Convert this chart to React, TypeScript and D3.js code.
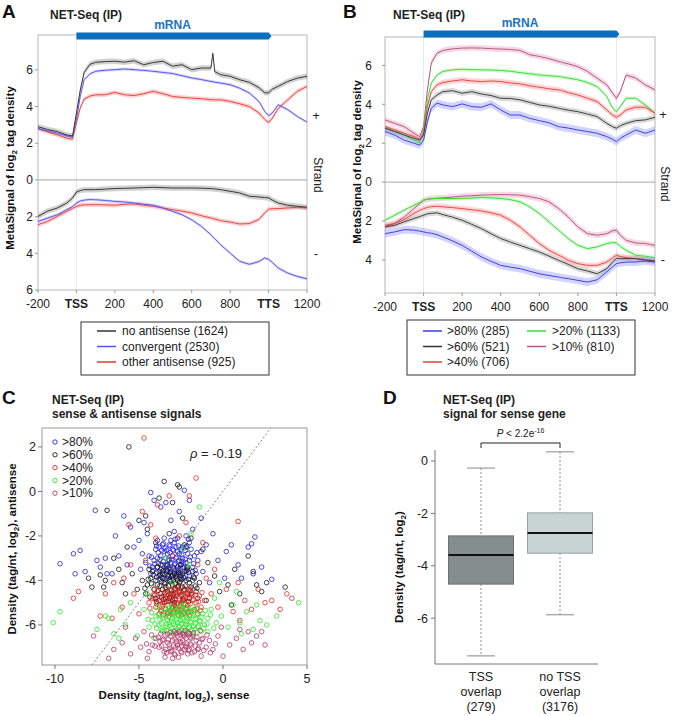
import React from "react";
import * as d3 from "d3";

const FONT = "'Liberation Sans', Arial, Helvetica, sans-serif";

// ---------- Panel A / B shared positions (bp relative to TSS; TTS = 1000) ----------
const positions = [-200,-150,-100,-50,-20,0,20,40,70,100,150,200,250,300,350,400,450,500,550,600,650,700,710,720,750,800,850,900,950,980,1000,1020,1050,1100,1150,1200];
const xTickVals = [-200, 0, 200, 400, 600, 800, 1000, 1200];
const xTickLabels = ["-200", "TSS", "200", "400", "600", "800", "TTS", "1200"];

// Panel A: sense (+) strand and antisense (-) strand magnitudes
const aNoAntiUp = [2.9,2.75,2.64,2.45,2.4,3.65,4.9,5.85,6.3,6.41,6.45,6.47,6.42,6.5,6.28,6.4,6.47,6.2,6.28,6.01,6.1,6.1,6.9,5.9,5.74,5.65,5.46,5.32,5.03,4.75,4.75,4.95,5.1,5.37,5.55,5.65];
const aConvUp = [2.8,2.67,2.55,2.4,2.35,3.3,4.55,5.46,5.78,5.92,5.98,6.01,6.05,6.01,5.97,5.92,5.86,5.8,5.68,5.56,5.47,5.37,5.35,5.33,5.28,5.19,5.0,4.74,4.28,3.74,3.5,3.65,4.1,3.83,3.46,3.15];
const aOtherUp = [2.8,2.62,2.46,2.28,2.22,3.1,3.93,4.4,4.57,4.64,4.64,4.77,4.64,4.6,4.7,4.83,4.7,4.55,4.5,4.46,4.43,4.37,4.38,4.36,4.37,4.28,4.15,4.0,3.65,3.3,3.13,3.37,3.9,4.37,4.83,5.1];
const aNoAntiDown = [1.99,1.7,1.53,1.26,0.98,0.66,0.58,0.53,0.53,0.53,0.5,0.47,0.46,0.44,0.42,0.4,0.42,0.44,0.44,0.44,0.45,0.47,0.48,0.49,0.53,0.62,0.71,0.89,0.93,0.96,0.98,1.1,1.26,1.38,1.44,1.49];
const aConvDown = [2.26,2.08,1.9,1.62,1.45,1.26,1.15,1.1,1.07,1.08,1.12,1.17,1.2,1.26,1.32,1.38,1.53,1.71,1.9,2.17,2.53,2.99,3.1,3.2,3.53,3.99,4.44,4.6,4.45,4.25,4.33,4.5,4.8,5.08,5.26,5.39];
const aOtherDown = [2.44,2.26,1.99,1.71,1.55,1.44,1.38,1.36,1.35,1.35,1.36,1.38,1.33,1.31,1.38,1.44,1.53,1.62,1.7,1.8,1.95,2.08,2.1,2.13,2.22,2.3,2.4,2.38,2.15,1.8,1.6,1.57,1.56,1.53,1.49,1.53];
const aLegend = ["no antisense (1624)", "convergent (2530)", "other antisense (925)"];

// Panel B
const b80Up = [2.6,2.42,2.16,2.0,1.9,2.16,3.11,3.8,4.06,3.97,3.88,4.02,3.88,3.85,4.02,3.71,3.45,3.45,3.28,3.16,3.05,2.85,2.84,2.82,2.78,2.68,2.6,2.51,2.34,2.2,2.08,2.25,2.42,2.68,2.51,2.68];
const b60Up = [2.77,2.6,2.42,2.25,2.16,2.42,3.54,4.23,4.48,4.65,4.7,4.57,4.65,4.53,4.45,4.31,4.3,4.23,4.1,3.97,3.9,3.8,3.78,3.76,3.7,3.62,3.5,3.37,3.02,2.85,2.77,2.9,3.02,3.16,3.2,3.33];
const b40Up = [2.85,2.68,2.51,2.34,2.2,2.51,3.88,4.65,5.0,5.12,5.2,5.26,5.2,5.17,5.2,5.17,5.1,5.05,4.95,4.88,4.8,4.74,4.72,4.7,4.6,4.48,4.31,4.14,3.71,3.45,3.33,3.45,3.71,3.85,3.85,3.54];
const b20Up = [2.77,2.6,2.42,2.16,2.0,2.68,4.23,5.09,5.51,5.69,5.77,5.8,5.78,5.77,5.76,5.74,5.7,5.63,5.57,5.51,5.47,5.43,5.42,5.4,5.35,5.26,5.12,4.91,4.4,3.8,3.62,3.88,4.31,4.31,3.97,3.54];
const b10Up = [3.2,3.02,2.85,2.51,2.34,2.85,4.74,6.12,6.63,6.77,6.85,6.89,6.9,6.89,6.86,6.84,6.82,6.77,6.55,6.46,6.35,6.2,6.18,6.15,6.08,5.94,5.69,5.34,5.0,4.57,4.31,4.65,5.5,5.35,5.0,4.74];
const b80Down = [2.65,2.56,2.44,2.47,2.52,2.56,2.6,2.63,2.7,2.82,3.02,3.25,3.55,3.85,4.07,4.28,4.37,4.45,4.58,4.71,4.8,4.88,4.9,4.92,4.96,5.05,5.14,5.02,4.62,4.35,4.19,4.15,4.11,4.11,4.05,4.11];
const b60Down = [2.3,2.22,2.04,1.87,1.77,1.7,1.63,1.6,1.58,1.67,1.8,1.96,2.17,2.39,2.65,2.9,3.08,3.25,3.42,3.59,3.8,4.02,4.06,4.1,4.23,4.45,4.57,4.71,4.45,4.1,3.93,3.93,3.93,3.93,4.02,4.05];
const b40Down = [2.22,2.13,1.92,1.61,1.45,1.36,1.3,1.26,1.24,1.27,1.31,1.36,1.42,1.48,1.58,1.7,1.96,2.3,2.73,3.16,3.5,3.76,3.8,3.85,4.02,4.19,4.28,4.28,4.11,3.9,3.76,3.82,3.88,3.93,3.98,4.05];
const b20Down = [1.96,1.7,1.44,1.19,1.05,0.93,0.88,0.86,0.84,0.84,0.84,0.84,0.82,0.79,0.81,0.84,0.9,1.01,1.27,1.61,2.04,2.47,2.56,2.64,2.9,3.25,3.42,3.33,3.16,3.1,3.13,3.3,3.5,3.76,3.81,3.88];
const b10Down = [2.3,2.13,1.79,1.36,1.1,0.93,0.88,0.85,0.83,0.81,0.77,0.72,0.7,0.67,0.65,0.64,0.65,0.67,0.75,0.84,1.01,1.36,1.44,1.53,1.79,2.3,2.65,2.73,2.65,2.5,2.47,2.73,2.99,3.13,3.16,3.25];
const bLegendCol1 = [">80% (285)", ">60% (521)", ">40% (706)"];
const bLegendCol2 = [">20% (1133)", ">10% (810)"];

// ---------- Panel C scatter (sense, antisense) ----------
const c80: [number, number][] = [[-3.1,-3.2],[-2.8,-3.0],[-3.4,-3.5],[-2.5,-3.3],[-3.7,-2.9],[-2.2,-3.6],[-3.0,-2.6],[-2.6,-2.8],[-3.9,-3.4],[-3.3,-3.9],[-2.9,-3.7],[-2.0,-3.1],[-4.1,-3.1],[-3.6,-3.3],[-2.4,-2.5],[-3.2,-2.4],[-1.8,-3.4],[-4.3,-3.7],[-2.7,-3.5],[-3.5,-2.7],[-2.1,-2.8],[-3.8,-3.8],[-2.3,-3.9],[-3.0,-3.4],[-2.6,-3.1],[-3.4,-3.0],[-1.7,-2.9],[-4.4,-2.9],[-2.9,-2.3],[-3.6,-3.6],[-2.0,-3.8],[-3.3,-2.8],[-2.8,-3.8],[-4.0,-2.6],[-2.4,-3.4],[-3.1,-3.6],[-1.6,-3.7],[-3.9,-3.0],[-2.5,-2.6],[-3.2,-3.1],[-2.2,-3.2],[-3.7,-3.5],[-2.7,-2.7],[-4.2,-3.4],[-1.9,-2.6],[-3.5,-3.9],[-2.9,-3.3],[-3.0,-2.9],[-2.3,-2.4],[-3.8,-2.5],[-2.6,-3.7],[-3.4,-3.3],[-2.1,-3.5],[-4.6,-3.2],[-1.5,-3.1],[-3.6,-2.4],[-2.8,-2.5],[-3.3,-3.6],[-2.4,-3.0],[-2.0,-2.3],[-3.1,-2.2],[-2.5,-3.9],[-3.9,-2.2],[-1.3,-2.7],[-4.8,-2.8],[-2.7,-2.1],[-3.5,-2.1],[-2.2,-2.0],[-3.0,-3.9],[-1.8,-4.0],[-9.7,-3.25],[-8.9,-2.8],[-8.8,-3.7],[-8.5,-2.65],[-8.2,-3.6],[-7.6,-0.85],[-7.5,-3.1],[-7.3,-3.4],[-7.0,-3.0],[-6.6,-3.7],[-6.4,-2.0],[-6.2,-2.9],[-5.9,-1.1],[-5.7,-3.3],[-5.5,-1.6],[-5.3,-2.5],[-5.0,-2.2],[-4.9,-3.5],[-4.7,-1.4],[-4.3,-0.05],[-4.5,-1.9],[-4.1,-0.4],[-3.7,-0.7],[-3.4,-0.5],[-3.1,-1.3],[-2.9,-1.8],[-2.6,-0.9],[-2.3,0.05],[-2.0,-0.4],[-1.8,-1.7],[-1.3,-1.2],[-1.0,-2.4],[-0.6,-1.9],[-0.3,-3.1],[0.2,-2.7],[0.5,-2.4],[0.9,-3.3],[1.1,-3.9],[1.5,-2.5],[1.7,-2.35],[1.9,-2.05],[1.8,-3.7],[2.3,-3.4],[2.9,-3.95],[-6.9,-3.7],[-1.2,-3.6],[-0.8,-4.1],[0.1,-3.9]];
const c80Core: [number, number][] = [[-3.25,-3.05],[-2.95,-3.45],[-3.55,-3.15],[-2.65,-3.55],[-3.85,-2.75],[-2.35,-3.25],[-3.15,-2.75],[-2.75,-2.95],[-3.65,-3.85],[-3.45,-2.55],[-2.45,-2.85],[-2.15,-3.45],[-3.95,-3.65],[-3.05,-3.75],[-2.55,-3.75],[-3.35,-3.35],[-2.85,-3.25],[-2.25,-2.65],[-4.05,-3.25],[-3.75,-3.05],[-2.05,-3.65],[-3.15,-3.95],[-2.65,-2.45],[-3.55,-2.35],[-2.35,-3.85],[-4.25,-2.95],[-1.95,-2.95],[-3.05,-3.05],[-2.75,-3.65],[-3.35,-2.65],[-2.45,-3.15],[-1.75,-3.25],[-4.15,-3.55],[-3.85,-3.25],[-2.95,-2.65],[-2.15,-2.45],[-3.25,-3.45],[-3.65,-2.65],[-2.55,-3.45],[-1.65,-3.55],[-2.85,-2.15],[-3.45,-3.75],[-4.35,-3.35],[-2.25,-3.05],[-3.75,-3.95],[-2.65,-3.15],[-3.15,-2.45],[-1.55,-2.75],[-2.05,-2.15],[-3.95,-2.45]];
const c60: [number, number][] = [[-3.0,-4.2],[-2.7,-4.0],[-3.3,-4.5],[-2.4,-4.3],[-3.6,-3.9],[-2.1,-4.6],[-3.9,-4.2],[-2.9,-3.7],[-3.4,-4.8],[-2.5,-3.8],[-3.7,-4.6],[-2.2,-4.0],[-4.1,-4.4],[-3.1,-3.5],[-2.8,-4.7],[-3.5,-4.1],[-1.9,-4.3],[-4.3,-3.9],[-2.6,-4.5],[-3.2,-4.0],[-2.3,-3.6],[-3.8,-3.6],[-2.0,-4.8],[-4.0,-4.8],[-3.0,-4.9],[-2.7,-3.4],[-3.6,-4.4],[-1.7,-3.9],[-4.5,-4.2],[-3.3,-3.8],[-2.4,-4.9],[-3.9,-3.4],[-2.9,-4.4],[-1.6,-4.5],[-4.2,-3.6],[-3.5,-5.0],[-2.1,-3.4],[-3.1,-4.6],[-2.6,-4.1],[-3.7,-3.3],[-2.8,-3.9],[-4.6,-4.6],[-1.4,-4.1],[-3.4,-4.3],[-2.5,-3.3],[-3.0,-3.8],[-2.3,-4.4],[-3.8,-4.9],[-4.4,-3.5],[-1.8,-3.6],[-3.2,-4.8],[-2.7,-4.3],[-3.6,-3.7],[-2.0,-4.1],[-4.0,-4.0],[-2.4,-3.7],[-3.3,-3.3],[-1.5,-4.8],[-4.8,-4.0],[-2.9,-5.0],[-5.6,2.0],[-3.5,0.45],[-2.7,0.3],[-2.6,0.2],[-3.0,-0.5],[-3.8,-0.3],[-4.6,-1.1],[-6.9,-0.85],[-7.8,-4.3],[-7.0,-4.0],[-7.3,-3.75],[-7.1,-4.3],[-6.2,-3.5],[-6.0,-4.1],[-5.7,-2.5],[-5.4,-3.7],[-5.1,-4.4],[-5.0,-1.3],[-4.5,-1.7],[-4.0,-2.3],[-3.2,-1.9],[-2.4,-1.2],[-1.9,-2.1],[-1.2,-2.6],[-0.9,-3.2],[-0.5,-3.8],[-0.2,-4.5],[0.3,-4.2],[0.7,-3.5],[1.0,-4.6],[1.5,-2.9],[1.8,-3.6],[2.0,-4.2],[2.3,-4.5],[2.6,-4.1],[3.7,-4.3],[-6.5,-3.0],[-8.0,-3.9],[-5.8,-4.6],[-1.0,-4.9],[0.5,-5.1],[-2.2,-2.5]];
const c60Core: [number, number][] = [[-3.15,-4.05],[-2.85,-4.35],[-3.45,-4.15],[-2.55,-4.55],[-3.75,-4.25],[-2.25,-4.25],[-3.25,-3.75],[-2.75,-3.75],[-3.65,-4.75],[-2.35,-4.85],[-3.95,-3.85],[-2.05,-3.95],[-3.55,-3.55],[-2.95,-4.65],[-4.25,-4.15],[-1.85,-4.65],[-3.35,-4.95],[-2.65,-4.25],[-3.05,-4.45],[-4.45,-3.95],[-2.45,-3.95],[-3.85,-4.45],[-1.65,-4.25],[-3.15,-3.65],[-2.75,-5.05],[-4.05,-4.65],[-2.15,-3.55],[-3.45,-4.55],[-2.95,-3.95],[-3.65,-4.05],[-1.95,-4.45],[-4.35,-4.75],[-2.55,-4.05],[-3.25,-4.25],[-2.85,-4.85],[-3.75,-3.75],[-2.35,-4.45],[-4.15,-3.75],[-1.75,-3.85],[-3.05,-5.05],[-2.65,-3.65],[-3.55,-4.85],[-2.05,-4.95],[-3.95,-4.95],[-2.45,-4.65],[-4.65,-4.35],[-1.55,-4.35],[-3.35,-3.55],[-2.85,-4.15],[-3.15,-4.75]];
const c40: [number, number][] = [[-2.7,-5.0],[-2.4,-4.8],[-3.0,-5.2],[-2.1,-5.1],[-3.3,-4.7],[-1.8,-4.9],[-3.6,-5.1],[-2.6,-4.5],[-3.1,-5.5],[-2.2,-4.6],[-3.4,-5.3],[-1.9,-5.4],[-3.8,-4.9],[-2.8,-4.4],[-2.5,-5.3],[-3.2,-4.9],[-1.6,-5.0],[-4.0,-5.2],[-2.3,-5.5],[-2.9,-4.7],[-2.0,-4.4],[-3.5,-4.6],[-1.4,-4.7],[-3.9,-4.5],[-2.7,-5.4],[-2.4,-5.2],[-3.0,-4.6],[-1.7,-5.3],[-4.2,-4.8],[-3.3,-5.5],[-2.1,-4.8],[-2.6,-4.9],[-3.7,-5.4],[-1.3,-5.2],[-2.9,-5.1],[-3.5,-5.0],[-2.2,-5.3],[-4.4,-5.0],[-1.1,-4.9],[-3.1,-4.4],[-2.5,-4.3],[-1.9,-4.6],[-3.8,-5.5],[-2.8,-5.3],[-3.4,-4.4],[-1.5,-5.5],[-2.3,-4.9],[-4.1,-4.4],[-2.0,-5.6],[-3.2,-5.6],[-4.7,2.4],[-1.6,0.6],[-3.9,-0.6],[-4.8,-0.9],[-5.6,-1.5],[-4.3,-1.5],[-2.2,-1.4],[-2.0,-0.2],[-3.2,-0.2],[0.9,-1.35],[-8.9,-4.8],[-8.6,-4.5],[-7.3,-5.6],[-7.0,-4.6],[-6.5,-4.1],[-6.0,-5.2],[-5.5,-3.3],[-5.3,-4.6],[-5.0,-5.5],[-4.6,-3.1],[-4.0,-2.1],[-3.0,-2.9],[-1.5,-3.3],[-1.0,-3.9],[-0.7,-4.6],[-0.3,-5.2],[0.2,-4.4],[0.6,-5.4],[0.9,-4.1],[1.3,-4.9],[1.7,-5.3],[2.1,-4.4],[2.5,-5.0],[2.9,-4.9],[3.4,-5.3],[3.8,-4.6],[4.1,-4.8],[-0.5,-3.5],[-6.6,-5.7],[-2.6,-2.0],[-1.2,-2.3],[-5.9,-3.9],[1.0,-5.8]];
const c40Core: [number, number][] = [[-2.85,-4.85],[-2.55,-5.15],[-3.15,-4.95],[-2.25,-4.75],[-3.45,-5.25],[-1.95,-5.05],[-3.75,-4.75],[-2.65,-5.35],[-2.95,-4.55],[-2.35,-5.45],[-3.55,-4.85],[-2.05,-4.65],[-3.25,-5.45],[-1.75,-4.85],[-3.95,-5.05],[-2.75,-4.65],[-2.45,-4.95],[-3.05,-5.25],[-1.55,-5.25],[-4.15,-4.65],[-2.15,-5.25],[-3.35,-4.55],[-2.65,-4.45],[-2.95,-5.45],[-1.85,-4.55],[-3.65,-5.35],[-2.35,-4.45],[-3.85,-4.45],[-1.45,-4.95],[-2.85,-5.15],[-2.55,-4.65],[-3.15,-5.35],[-2.05,-5.45],[-4.35,-5.25],[-1.25,-4.55],[-3.45,-4.95],[-2.75,-5.05],[-2.25,-5.05],[-3.05,-4.75],[-1.65,-4.65],[-3.55,-5.55],[-2.45,-5.55],[-1.95,-4.35],[-4.05,-4.85],[-2.85,-4.35],[-3.25,-4.65],[-1.35,-5.35],[-2.15,-4.55],[-3.75,-5.15],[-2.65,-5.55]];
const c20: [number, number][] = [[-2.5,-5.8],[-2.2,-5.6],[-2.8,-6.0],[-1.9,-5.9],[-3.1,-5.5],[-1.6,-5.7],[-3.4,-6.1],[-2.4,-5.3],[-2.9,-6.3],[-2.0,-5.4],[-3.2,-5.9],[-1.7,-6.2],[-3.6,-5.7],[-2.6,-5.2],[-2.3,-6.1],[-3.0,-5.7],[-1.4,-5.8],[-3.8,-6.0],[-2.1,-6.3],[-2.7,-5.5],[-1.8,-5.2],[-3.3,-5.4],[-1.2,-5.5],[-3.7,-5.3],[-2.5,-6.2],[-2.2,-6.0],[-2.8,-5.4],[-1.5,-6.1],[-4.0,-5.6],[-3.1,-6.3],[-1.9,-5.6],[-2.4,-5.7],[-3.5,-6.2],[-1.1,-6.0],[-2.7,-5.9],[-3.3,-5.8],[-2.0,-6.1],[-4.2,-5.8],[-0.9,-5.7],[-2.9,-5.2],[-2.3,-5.1],[-1.7,-5.4],[-3.6,-6.3],[-2.6,-6.1],[-3.2,-5.2],[-1.3,-6.3],[-2.1,-5.7],[-3.9,-5.2],[-1.8,-6.4],[-3.0,-6.4],[-0.7,-5.3],[-0.4,-5.9],[-0.9,-6.3],[-4.4,-6.1],[-2.4,-5.5],[-1.5,-5.3],[-10.1,-5.9],[-9.7,-5.4],[-7.5,-6.2],[-7.0,-5.6],[-6.8,-5.7],[-6.5,-6.4],[-6.1,-5.3],[-5.8,-6.0],[-5.5,-5.0],[-5.1,-6.5],[-4.7,-5.3],[-4.5,-4.6],[-1.4,-0.7],[-1.9,-1.9],[-2.4,-2.6],[-3.4,-3.0],[-0.5,-4.8],[-0.1,-5.6],[0.3,-6.1],[0.6,-5.1],[1.0,-5.9],[1.4,-5.4],[1.8,-6.2],[2.2,-5.8],[2.6,-6.0],[3.2,-5.6],[4.5,-5.0],[0.8,-4.5],[-0.2,-4.1],[-3.0,-4.1],[-2.0,-3.3],[1.1,-6.4],[-6.2,-6.6],[-4.1,-6.6],[2.0,-5.1]];
const c20Core: [number, number][] = [[-2.55,-5.75],[-2.25,-5.95],[-2.85,-5.65],[-1.95,-5.55],[-3.15,-6.05],[-1.65,-5.95],[-3.45,-5.45],[-2.45,-6.25],[-2.75,-5.35],[-2.05,-6.15],[-3.25,-5.65],[-1.75,-5.35],[-3.65,-5.95],[-2.65,-6.05],[-2.35,-5.45],[-3.05,-6.15],[-1.45,-6.05],[-3.85,-5.55],[-2.15,-5.85],[-2.95,-5.95],[-1.85,-6.25],[-3.35,-6.25],[-1.25,-5.65],[-3.75,-5.75],[-2.55,-5.45],[-2.25,-5.25],[-2.85,-6.25],[-1.55,-5.55],[-4.05,-5.95],[-3.15,-5.35],[-1.95,-5.85],[-2.45,-5.95],[-3.55,-5.65],[-1.15,-6.15],[-2.75,-5.75],[-3.35,-5.95],[-2.05,-5.35],[-4.25,-5.45],[-0.95,-5.95],[-2.95,-5.55],[-2.35,-6.35],[-1.65,-5.75],[-3.65,-6.25],[-2.65,-5.55],[-3.25,-5.25],[-1.35,-5.85],[-2.15,-6.35],[-3.95,-6.15],[-1.75,-6.05],[-3.05,-5.85],[-0.75,-5.55],[-0.55,-6.15],[-1.05,-5.35],[-4.45,-5.75],[-2.45,-5.15],[-1.55,-6.35]];
const c10: [number, number][] = [[-2.5,-6.8],[-2.2,-6.6],[-2.8,-7.0],[-1.9,-6.9],[-3.1,-6.5],[-1.6,-6.7],[-3.4,-7.1],[-2.4,-6.4],[-2.9,-7.3],[-2.0,-6.4],[-3.2,-6.9],[-1.7,-7.2],[-3.6,-6.7],[-2.6,-6.3],[-2.3,-7.1],[-3.0,-6.7],[-1.4,-6.8],[-3.8,-7.0],[-2.1,-7.3],[-2.7,-6.5],[-1.8,-6.5],[-3.3,-6.4],[-1.2,-6.6],[-3.7,-6.4],[-2.5,-7.2],[-2.2,-7.0],[-2.8,-6.4],[-1.5,-7.1],[-4.0,-6.6],[-3.1,-7.2],[-1.9,-6.6],[-2.4,-6.7],[-3.5,-7.2],[-1.0,-7.0],[-2.7,-6.9],[-3.3,-6.8],[-2.0,-7.1],[-4.2,-6.9],[-0.8,-6.7],[-2.9,-6.3],[-0.6,-7.1],[-4.4,-7.2],[-1.3,-7.4],[-3.0,-7.5],[-2.3,-6.5],[-7.7,-6.5],[-6.8,-7.5],[-6.5,-7.1],[-6.0,-6.8],[-5.5,-7.3],[-5.2,-6.6],[-4.9,-7.0],[-4.7,-6.3],[-0.3,-6.5],[0.0,-7.4],[0.4,-6.9],[0.8,-6.6],[1.2,-7.1],[1.5,-6.3],[1.7,-6.8],[2.0,-6.5],[2.3,-6.3],[2.5,-6.9],[-0.1,-6.1],[1.0,-6.2],[-5.8,-6.1],[-4.5,-7.5]];
const c10Core: [number, number][] = [[-2.55,-6.75],[-2.25,-6.95],[-2.85,-6.65],[-1.95,-6.55],[-3.15,-7.05],[-1.65,-6.95],[-3.45,-6.45],[-2.45,-7.25],[-2.75,-6.35],[-2.05,-7.15],[-3.25,-6.65],[-1.75,-6.35],[-3.65,-6.95],[-2.65,-7.05],[-2.35,-6.45],[-3.05,-7.15],[-1.45,-7.05],[-3.85,-6.55],[-2.15,-6.85],[-2.95,-6.95],[-1.85,-7.25],[-3.35,-7.25],[-1.25,-6.65],[-3.75,-6.75],[-2.55,-6.45],[-2.25,-6.25],[-2.85,-7.35],[-1.55,-6.55],[-4.05,-6.95],[-3.15,-6.35],[-1.95,-6.85],[-2.45,-6.95],[-3.55,-6.65],[-1.15,-7.15],[-2.75,-6.75],[-0.95,-6.45],[-0.45,-6.85],[-4.25,-6.45],[-2.05,-6.35],[-3.45,-7.45],[-1.35,-6.25],[-2.65,-7.45],[-0.75,-7.25],[-4.55,-6.85]];
const cLegend = [">80%", ">60%", ">40%", ">20%", ">10%"];
const cXTicks = [-10, -5, 0, 5];
const cYTicks = [-6, -4, -2, 0, 2];
const cRho = -0.19;

// ---------- Panel D boxplot ----------
const dGroups = ["TSS overlap", "no TSS overlap"];
const dLabels = [["TSS", "overlap", "(279)"], ["no TSS", "overlap", "(3176)"]];
const dMin = [-7.44, -5.87];
const dQ1 = [-4.7, -3.52];
const dMedian = [-3.59, -2.75];
const dQ3 = [-2.86, -1.98];
const dMax = [-0.27, 0.35];
const dYTicks = [-6, -4, -2, 0];

type Ser = { up: number[]; down: number[]; color: string; band: string; bw: number };

function Profile(p: {
  x0: number; x1: number; y0: number; y1: number; yMin: number; yMax: number;
  series: Ser[]; upTicks: number[]; downTicks: number[]; labelRight: number;
  barY: number; strandX: number; strandY: number; ylabX: number; ylabY: number;
}) {
  const x = d3.scaleLinear().domain([-200, 1200]).range([p.x0, p.x1]);
  const y = d3.scaleLinear().domain([p.yMin, p.yMax]).range([p.y1, p.y0]);
  const line = d3.line<[number, number]>().x((d) => x(d[0])).y((d) => y(d[1]));
  const mk = (vals: number[], sign: number): [number, number][] => positions.map((pos, i) => [pos, sign * vals[i]]);
  const area = (vals: number[], sign: number, w: number) =>
    d3.area<[number, number]>().x((d) => x(d[0])).y0((d) => y(d[1] - w)).y1((d) => y(d[1] + w))(mk(vals, sign)) || "";
  const bx0 = x(0), bx1 = x(1000);
  const by = p.barY;
  return (
    <g fontFamily={FONT}>
      <line x1={x(0)} x2={x(0)} y1={p.y0} y2={p.y1} stroke="#e4e8ee" />
      <line x1={x(1000)} x2={x(1000)} y1={p.y0} y2={p.y1} stroke="#e4e8ee" />
      <rect x={p.x0} y={p.y0} width={p.x1 - p.x0} height={p.y1 - p.y0} fill="none" stroke="#b8b8b8" />
      <line x1={p.x0} x2={p.x1} y1={y(0)} y2={y(0)} stroke="#a8a8a8" />
      {p.series.map((s, i) => (
        <g key={"b" + i}>
          <path d={area(s.up, 1, s.bw)} fill={s.band} opacity={0.45} />
          <path d={area(s.down, -1, s.bw)} fill={s.band} opacity={0.45} />
        </g>
      ))}
      {p.series.map((s, i) => (
        <g key={"l" + i} fill="none" stroke={s.color} strokeWidth={1}>
          <path d={line(mk(s.up, 1)) || ""} />
          <path d={line(mk(s.down, -1)) || ""} />
        </g>
      ))}
      {p.upTicks.map((t) => (
        <g key={"u" + t}>
          <line x1={p.x0 - 3} x2={p.x0} y1={y(t)} y2={y(t)} stroke="#999" />
          <text x={p.labelRight} y={y(t)} dy="0.35em" textAnchor="end" fontSize={12} fill="#222">{t}</text>
        </g>
      ))}
      {p.downTicks.map((t) => (
        <g key={"d" + t}>
          <line x1={p.x0 - 3} x2={p.x0} y1={y(-t)} y2={y(-t)} stroke="#999" />
          <text x={p.labelRight} y={y(-t)} dy="0.35em" textAnchor="end" fontSize={12} fill="#222">{t}</text>
        </g>
      ))}
      {xTickVals.map((t, i) => (
        <g key={"x" + t}>
          <line x1={x(t)} x2={x(t)} y1={p.y1} y2={p.y1 + 3} stroke="#999" />
          <text x={x(t)} y={p.y1 + 18} textAnchor="middle" fontSize={12} fill="#222"
            fontWeight={t === 0 || t === 1000 ? "bold" : "normal"}>{xTickLabels[i]}</text>
        </g>
      ))}
      <path d={`M${bx0},${by - 3.5}L${bx1},${by - 3.5}L${bx1 + 3},${by}L${bx1},${by + 3.5}L${bx0},${by + 3.5}Z`} fill="#0a6dbd" />
      <text x={(bx0 + bx1) / 2} y={by - 7} textAnchor="middle" fontSize={12} fontWeight="bold" fill="#1a73c2">mRNA</text>
      <text x={p.strandX} y={y(3.5)} dy="0.35em" textAnchor="middle" fontSize={13} fill="#222">+</text>
      <text x={p.strandX} y={y(-4)} dy="0.35em" textAnchor="middle" fontSize={13} fill="#222">-</text>
      <text transform={`translate(${p.strandX - 2},${p.strandY}) rotate(90)`} textAnchor="middle" fontSize={12} fill="#222">Strand</text>
      <text transform={`translate(${p.ylabX},${p.ylabY}) rotate(-90)`} textAnchor="middle" fontSize={11.5} fontWeight="bold" fill="#111">
        MetaSignal of log<tspan dy={3} fontSize={8}>2</tspan><tspan dy={-3}> tag density</tspan>
      </text>
    </g>
  );
}

function PanelC() {
  const x = d3.scaleLinear().domain([-10.77, 5.0]).range([42, 307]);
  const y = d3.scaleLinear().domain([-7.8, 2.85]).range([665, 428]);
  const groups = [
    { pts: c80.concat(c80Core), color: "#2323d2" },
    { pts: c60.concat(c60Core), color: "#151515" },
    { pts: c40.concat(c40Core), color: "#e82620" },
    { pts: c20.concat(c20Core), color: "#2ee82e" },
    { pts: c10.concat(c10Core), color: "#b2386a" },
  ];
  const lo = -7.8, hi = 2.85;
  return (
    <g fontFamily={FONT}>
      <line x1={x(lo)} y1={y(lo)} x2={x(hi)} y2={y(hi)} stroke="#777" strokeDasharray="2,2" strokeWidth={0.9} />
      {groups.map((g, gi) => (
        <g key={gi} fill="none" stroke={g.color} strokeWidth={0.8}>
          {g.pts.map((d, i) => <circle key={i} cx={x(d[0])} cy={y(d[1])} r={2.3} />)}
        </g>
      ))}
      <rect x={42} y={428} width={265} height={237} fill="none" stroke="#999" />
      {cXTicks.map((t) => (
        <g key={t}>
          <line x1={x(t)} x2={x(t)} y1={665} y2={669} stroke="#777" />
          <text x={x(t)} y={683} textAnchor="middle" fontSize={12.5} fill="#222">{t}</text>
        </g>
      ))}
      {cYTicks.map((t) => (
        <g key={t}>
          <line x1={38} x2={42} y1={y(t)} y2={y(t)} stroke="#777" />
          <text x={36} y={y(t)} dy="0.35em" textAnchor="end" fontSize={12.5} fill="#222">{t}</text>
        </g>
      ))}
      {cLegend.map((l, i) => (
        <g key={l}>
          <circle cx={55} cy={442 + i * 12.8} r={2.2} fill="none" stroke={groups[i].color} strokeWidth={0.9} />
          <text x={62} y={442 + i * 12.8} dy="0.35em" fontSize={12} fill="#222">{l}</text>
        </g>
      ))}
      <text x={190} y={453} dy="0.35em" fontSize={13} fill="#222"><tspan fontStyle="italic">ρ</tspan> = {cRho}</text>
      <text x={174} y={699} textAnchor="middle" fontSize={11.5} fontWeight="bold" fill="#111">
        Density (tag/nt, log<tspan dy={3} fontSize={8}>2</tspan><tspan dy={-3}>), sense</tspan>
      </text>
      <text transform="translate(16,549) rotate(-90)" textAnchor="middle" fontSize={11.5} fontWeight="bold" fill="#111">
        Density (tag/nt, log<tspan dy={3} fontSize={8}>2</tspan><tspan dy={-3}>), antisense</tspan>
      </text>
    </g>
  );
}

function PanelD() {
  const y = d3.scaleLinear().domain([-7.75, 0.42]).range([664, 450]);
  const x = d3.scalePoint<string>().domain(dGroups).range([481, 560]);
  const fills = ["#858e8c", "#c8d3d3"];
  const strokes = ["#6a7371", "#95a0a0"];
  const hw = 32.5, cw = 14;
  const bx0 = x(dGroups[0]) as number, bx1 = x(dGroups[1]) as number;
  return (
    <g fontFamily={FONT}>
      <line x1={435} x2={435} y1={450} y2={664} stroke="#777" />
      <line x1={435} x2={598} y1={664} y2={664} stroke="#777" />
      {dYTicks.map((t) => (
        <g key={t}>
          <line x1={431} x2={435} y1={y(t)} y2={y(t)} stroke="#777" />
          <text x={428} y={y(t)} dy="0.35em" textAnchor="end" fontSize={12.5} fill="#222">{t}</text>
        </g>
      ))}
      {dGroups.map((g, i) => {
        const cx = x(g) as number;
        return (
          <g key={g}>
            <line x1={cx} x2={cx} y1={y(dMax[i])} y2={y(dQ3[i])} stroke="#888" strokeDasharray="2,2" />
            <line x1={cx} x2={cx} y1={y(dQ1[i])} y2={y(dMin[i])} stroke="#888" strokeDasharray="2,2" />
            <line x1={cx - cw} x2={cx + cw} y1={y(dMax[i])} y2={y(dMax[i])} stroke="#888" />
            <line x1={cx - cw} x2={cx + cw} y1={y(dMin[i])} y2={y(dMin[i])} stroke="#888" />
            <rect x={cx - hw} y={y(dQ3[i])} width={2 * hw} height={y(dQ1[i]) - y(dQ3[i])} fill={fills[i]} stroke={strokes[i]} />
            <line x1={cx - hw} x2={cx + hw} y1={y(dMedian[i])} y2={y(dMedian[i])} stroke="#111" strokeWidth={2} />
            {dLabels[i].map((l, j) => (
              <text key={j} x={cx} y={677 + j * 15} dy="0.35em" textAnchor="middle" fontSize={12.5} fill="#222">{l}</text>
            ))}
          </g>
        );
      })}
      <path d={`M${bx0},448V443H${bx1}V448`} fill="none" stroke="#222" />
      <text x={(bx0 + bx1) / 2} y={437} textAnchor="middle" fontSize={10} fill="#222">
        <tspan fontStyle="italic">P</tspan> &lt; 2.2e<tspan dy={-4} fontSize={7}>-16</tspan>
      </text>
      <text transform="translate(403,567) rotate(-90)" textAnchor="middle" fontSize={11.5} fontWeight="bold" fill="#111">
        Density (tag/nt, log<tspan dy={3} fontSize={8}>2</tspan><tspan dy={-3}>)</tspan>
      </text>
    </g>
  );
}

export default function App() {
  const seriesA: Ser[] = [
    { up: aOtherUp, down: aOtherDown, color: "#ee4444", band: "#ff9a9a", bw: 0.12 },
    { up: aConvUp, down: aConvDown, color: "#5a5af2", band: "#a4a4ff", bw: 0.08 },
    { up: aNoAntiUp, down: aNoAntiDown, color: "#3a3a3a", band: "#9a9a9a", bw: 0.15 },
  ];
  const seriesB: Ser[] = [
    { up: b10Up, down: b10Down, color: "#b85a80", band: "#e6a8c0", bw: 0.15 },
    { up: b20Up, down: b20Down, color: "#33e033", band: "#a8f0a8", bw: 0.1 },
    { up: b40Up, down: b40Down, color: "#e84848", band: "#ffa0a0", bw: 0.14 },
    { up: b60Up, down: b60Down, color: "#404040", band: "#a8a8a8", bw: 0.14 },
    { up: b80Up, down: b80Down, color: "#4040e0", band: "#9e9eff", bw: 0.2 },
  ];
  const aColors = ["#333", "#5555ee", "#ee3333"];
  const bColors1 = ["#3a3ae6", "#333", "#e04040"];
  const bColors2 = ["#33e033", "#b85a80"];
  return (
    <svg width={674} height={716} style={{ position: "absolute", left: 0, top: 0, background: "#fff" }} fontFamily={FONT}>
      <rect width={674} height={716} fill="#fff" />
      <text x={2} y={18} fontSize={19} fontWeight="bold" fill="#111">A</text>
      <text x={50} y={19} fontSize={12} fontWeight="bold" fill="#222">NET-Seq (IP)</text>
      <text x={343} y={18} fontSize={19} fontWeight="bold" fill="#111">B</text>
      <text x={393} y={19} fontSize={12} fontWeight="bold" fill="#222">NET-Seq (IP)</text>
      <text x={2} y={404} fontSize={19} fontWeight="bold" fill="#111">C</text>
      <text x={52} y={404} fontSize={12} fontWeight="bold" fill="#222">NET-Seq (IP)</text>
      <text x={52} y={418} fontSize={12} fontWeight="bold" fill="#222">sense &amp; antisense signals</text>
      <text x={383} y={404} fontSize={19} fontWeight="bold" fill="#111">D</text>
      <text x={443} y={404} fontSize={12} fontWeight="bold" fill="#222">NET-Seq (IP)</text>
      <text x={443} y={418} fontSize={12} fontWeight="bold" fill="#222">signal for sense gene</text>

      <Profile x0={38} x1={307} y0={35} y1={290} yMin={-6} yMax={7.9} series={seriesA}
        upTicks={[0, 2, 4, 6]} downTicks={[2, 4, 6]} labelRight={33} barY={36}
        strandX={316} strandY={175} ylabX={14} ylabY={168} />
      <Profile x0={385} x1={655} y0={37} y1={293} yMin={-5.7} yMax={7.46} series={seriesB}
        upTicks={[0, 2, 4, 6]} downTicks={[2, 4]} labelRight={372} barY={34}
        strandX={663} strandY={184} ylabX={361} ylabY={162} />

      <g fontFamily={FONT}>
        <rect x={81} y={322} width={188} height={53} fill="#fff" stroke="#333" />
        {aLegend.map((l, i) => (
          <g key={l}>
            <line x1={97} x2={116} y1={331 + i * 15.5} y2={331 + i * 15.5} stroke={aColors[i]} strokeWidth={1.5} />
            <text x={122} y={331 + i * 15.5} dy="0.35em" fontSize={12} fill="#222">{l}</text>
          </g>
        ))}
      </g>
      <g fontFamily={FONT}>
        <rect x={407} y={320} width={228} height={55} fill="#fff" stroke="#333" />
        {bLegendCol1.map((l, i) => (
          <g key={l}>
            <line x1={423} x2={442} y1={331 + i * 15.5} y2={331 + i * 15.5} stroke={bColors1[i]} strokeWidth={1.5} />
            <text x={447} y={331 + i * 15.5} dy="0.35em" fontSize={12} fill="#222">{l}</text>
          </g>
        ))}
        {bLegendCol2.map((l, i) => (
          <g key={l}>
            <line x1={527} x2={546} y1={331 + i * 15.5} y2={331 + i * 15.5} stroke={bColors2[i]} strokeWidth={1.5} />
            <text x={552} y={331 + i * 15.5} dy="0.35em" fontSize={12} fill="#222">{l}</text>
          </g>
        ))}
      </g>
      <PanelC />
      <PanelD />
    </svg>
  );
}
